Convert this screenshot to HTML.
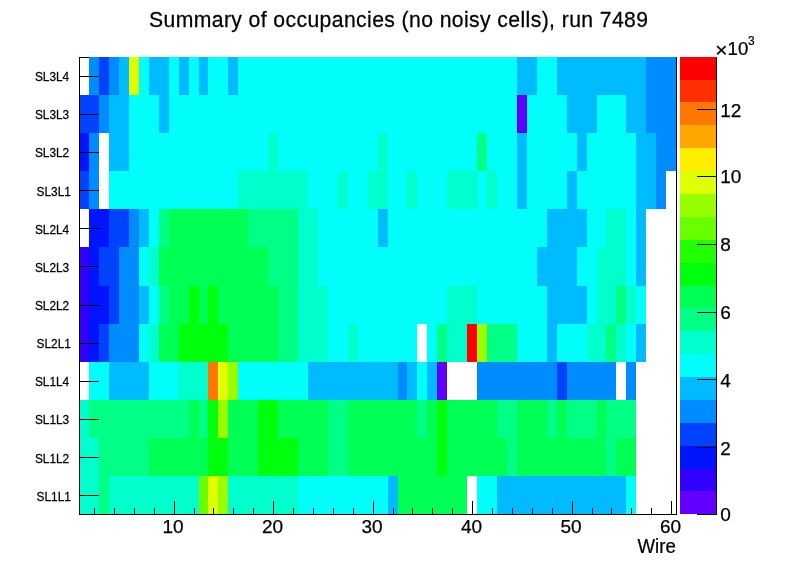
<!DOCTYPE html><html><head><meta charset="utf-8"><title>Summary of occupancies</title>
<style>html,body{margin:0;padding:0;background:#fff}svg{display:block}text{font-family:"Liberation Sans",sans-serif;fill:#000;stroke:#000;stroke-width:0.25px}</style></head><body>
<svg width="796" height="572" viewBox="0 0 796 572">
<rect x="0" y="0" width="796" height="572" fill="#fff"/>
<g shape-rendering="crispEdges">
<rect x="79" y="57" width="598" height="458" fill="#fff" stroke="none"/>
<rect x="79" y="57" width="598" height="1" fill="#000"/>
<rect x="676" y="57" width="1" height="458" fill="#000"/>
<rect x="89" y="57" width="10" height="38" fill="#008bff"/>
<rect x="99" y="57" width="10" height="38" fill="#0043ff"/>
<rect x="109" y="57" width="10" height="38" fill="#008bff"/>
<rect x="119" y="57" width="10" height="38" fill="#00bbff"/>
<rect x="129" y="57" width="10" height="38" fill="#e0ff00"/>
<rect x="139" y="57" width="10" height="38" fill="#00fffb"/>
<rect x="149" y="57" width="20" height="38" fill="#00bbff"/>
<rect x="169" y="57" width="10" height="38" fill="#00fffb"/>
<rect x="179" y="57" width="10" height="38" fill="#00bbff"/>
<rect x="189" y="57" width="10" height="38" fill="#00fffb"/>
<rect x="199" y="57" width="9" height="38" fill="#00bbff"/>
<rect x="208" y="57" width="20" height="38" fill="#00fffb"/>
<rect x="228" y="57" width="10" height="38" fill="#00bbff"/>
<rect x="238" y="57" width="279" height="38" fill="#00fffb"/>
<rect x="517" y="57" width="20" height="38" fill="#00bbff"/>
<rect x="537" y="57" width="20" height="38" fill="#00fffb"/>
<rect x="557" y="57" width="89" height="38" fill="#00bbff"/>
<rect x="646" y="57" width="30" height="38" fill="#008bff"/>
<rect x="79" y="95" width="20" height="38" fill="#0043ff"/>
<rect x="99" y="95" width="10" height="38" fill="#008bff"/>
<rect x="109" y="95" width="20" height="38" fill="#00bbff"/>
<rect x="129" y="95" width="30" height="38" fill="#00fffb"/>
<rect x="159" y="95" width="10" height="38" fill="#00bbff"/>
<rect x="169" y="95" width="348" height="38" fill="#00fffb"/>
<rect x="517" y="95" width="10" height="38" fill="#6200ff"/>
<rect x="527" y="95" width="40" height="38" fill="#00fffb"/>
<rect x="567" y="95" width="30" height="38" fill="#00bbff"/>
<rect x="597" y="95" width="29" height="38" fill="#00fffb"/>
<rect x="626" y="95" width="20" height="38" fill="#00bbff"/>
<rect x="646" y="95" width="30" height="38" fill="#008bff"/>
<rect x="79" y="133" width="10" height="38" fill="#0014ff"/>
<rect x="89" y="133" width="10" height="38" fill="#008bff"/>
<rect x="109" y="133" width="20" height="38" fill="#00bbff"/>
<rect x="129" y="133" width="139" height="38" fill="#00fffb"/>
<rect x="268" y="133" width="10" height="38" fill="#00ffcc"/>
<rect x="278" y="133" width="100" height="38" fill="#00fffb"/>
<rect x="378" y="133" width="10" height="38" fill="#00ffcc"/>
<rect x="388" y="133" width="89" height="38" fill="#00fffb"/>
<rect x="477" y="133" width="10" height="38" fill="#00ff84"/>
<rect x="487" y="133" width="30" height="38" fill="#00fffb"/>
<rect x="517" y="133" width="10" height="38" fill="#00bbff"/>
<rect x="527" y="133" width="50" height="38" fill="#00fffb"/>
<rect x="577" y="133" width="10" height="38" fill="#00bbff"/>
<rect x="587" y="133" width="49" height="38" fill="#00fffb"/>
<rect x="636" y="133" width="20" height="38" fill="#00bbff"/>
<rect x="656" y="133" width="20" height="38" fill="#008bff"/>
<rect x="79" y="171" width="10" height="38" fill="#0043ff"/>
<rect x="89" y="171" width="10" height="38" fill="#008bff"/>
<rect x="109" y="171" width="129" height="38" fill="#00fffb"/>
<rect x="238" y="171" width="70" height="38" fill="#00ffcc"/>
<rect x="308" y="171" width="30" height="38" fill="#00fffb"/>
<rect x="338" y="171" width="10" height="38" fill="#00ffcc"/>
<rect x="348" y="171" width="20" height="38" fill="#00fffb"/>
<rect x="368" y="171" width="20" height="38" fill="#00ffcc"/>
<rect x="388" y="171" width="19" height="38" fill="#00fffb"/>
<rect x="407" y="171" width="10" height="38" fill="#00ffcc"/>
<rect x="417" y="171" width="30" height="38" fill="#00fffb"/>
<rect x="447" y="171" width="30" height="38" fill="#00ffcc"/>
<rect x="477" y="171" width="10" height="38" fill="#00fffb"/>
<rect x="487" y="171" width="10" height="38" fill="#00ffcc"/>
<rect x="497" y="171" width="20" height="38" fill="#00fffb"/>
<rect x="517" y="171" width="10" height="38" fill="#00bbff"/>
<rect x="527" y="171" width="40" height="38" fill="#00fffb"/>
<rect x="567" y="171" width="10" height="38" fill="#00bbff"/>
<rect x="577" y="171" width="59" height="38" fill="#00fffb"/>
<rect x="636" y="171" width="20" height="38" fill="#00bbff"/>
<rect x="656" y="171" width="10" height="38" fill="#008bff"/>
<rect x="89" y="209" width="20" height="38" fill="#0014ff"/>
<rect x="109" y="209" width="20" height="38" fill="#0043ff"/>
<rect x="129" y="209" width="10" height="38" fill="#008bff"/>
<rect x="139" y="209" width="10" height="38" fill="#00bbff"/>
<rect x="149" y="209" width="10" height="38" fill="#00fffb"/>
<rect x="159" y="209" width="10" height="38" fill="#00ff84"/>
<rect x="169" y="209" width="79" height="38" fill="#00ff55"/>
<rect x="248" y="209" width="50" height="38" fill="#00ff84"/>
<rect x="298" y="209" width="20" height="38" fill="#00ffcc"/>
<rect x="318" y="209" width="60" height="38" fill="#00fffb"/>
<rect x="378" y="209" width="10" height="38" fill="#00bbff"/>
<rect x="388" y="209" width="159" height="38" fill="#00fffb"/>
<rect x="547" y="209" width="40" height="38" fill="#00bbff"/>
<rect x="587" y="209" width="19" height="38" fill="#00fffb"/>
<rect x="606" y="209" width="20" height="38" fill="#00ffcc"/>
<rect x="626" y="209" width="10" height="38" fill="#00fffb"/>
<rect x="636" y="209" width="10" height="38" fill="#00bbff"/>
<rect x="79" y="247" width="10" height="39" fill="#3200ff"/>
<rect x="89" y="247" width="10" height="39" fill="#0014ff"/>
<rect x="99" y="247" width="20" height="39" fill="#0043ff"/>
<rect x="119" y="247" width="20" height="39" fill="#008bff"/>
<rect x="139" y="247" width="10" height="39" fill="#00fffb"/>
<rect x="149" y="247" width="10" height="39" fill="#00ffcc"/>
<rect x="159" y="247" width="109" height="39" fill="#00ff55"/>
<rect x="268" y="247" width="30" height="39" fill="#00ff84"/>
<rect x="298" y="247" width="20" height="39" fill="#00ffcc"/>
<rect x="318" y="247" width="219" height="39" fill="#00fffb"/>
<rect x="537" y="247" width="40" height="39" fill="#00bbff"/>
<rect x="577" y="247" width="20" height="39" fill="#00fffb"/>
<rect x="597" y="247" width="29" height="39" fill="#00ffcc"/>
<rect x="626" y="247" width="10" height="39" fill="#00fffb"/>
<rect x="636" y="247" width="10" height="39" fill="#00bbff"/>
<rect x="79" y="286" width="10" height="38" fill="#3200ff"/>
<rect x="89" y="286" width="20" height="38" fill="#0014ff"/>
<rect x="109" y="286" width="10" height="38" fill="#0043ff"/>
<rect x="119" y="286" width="20" height="38" fill="#008bff"/>
<rect x="139" y="286" width="10" height="38" fill="#00bbff"/>
<rect x="149" y="286" width="10" height="38" fill="#00fffb"/>
<rect x="159" y="286" width="10" height="38" fill="#00ff84"/>
<rect x="169" y="286" width="20" height="38" fill="#00ff55"/>
<rect x="189" y="286" width="10" height="38" fill="#00ff0d"/>
<rect x="199" y="286" width="9" height="38" fill="#00ff55"/>
<rect x="208" y="286" width="10" height="38" fill="#00ff0d"/>
<rect x="218" y="286" width="60" height="38" fill="#00ff55"/>
<rect x="278" y="286" width="20" height="38" fill="#00ff84"/>
<rect x="298" y="286" width="30" height="38" fill="#00ffcc"/>
<rect x="328" y="286" width="119" height="38" fill="#00fffb"/>
<rect x="447" y="286" width="30" height="38" fill="#00ffcc"/>
<rect x="477" y="286" width="70" height="38" fill="#00fffb"/>
<rect x="547" y="286" width="40" height="38" fill="#00bbff"/>
<rect x="587" y="286" width="10" height="38" fill="#00fffb"/>
<rect x="597" y="286" width="19" height="38" fill="#00ffcc"/>
<rect x="616" y="286" width="10" height="38" fill="#00ff84"/>
<rect x="626" y="286" width="10" height="38" fill="#00ffcc"/>
<rect x="636" y="286" width="10" height="38" fill="#00fffb"/>
<rect x="79" y="324" width="10" height="38" fill="#3200ff"/>
<rect x="89" y="324" width="10" height="38" fill="#0014ff"/>
<rect x="99" y="324" width="10" height="38" fill="#0043ff"/>
<rect x="109" y="324" width="30" height="38" fill="#008bff"/>
<rect x="139" y="324" width="10" height="38" fill="#00fffb"/>
<rect x="149" y="324" width="10" height="38" fill="#00ffcc"/>
<rect x="159" y="324" width="20" height="38" fill="#00ff55"/>
<rect x="179" y="324" width="49" height="38" fill="#00ff0d"/>
<rect x="228" y="324" width="50" height="38" fill="#00ff55"/>
<rect x="278" y="324" width="20" height="38" fill="#00ff84"/>
<rect x="298" y="324" width="30" height="38" fill="#00ffcc"/>
<rect x="328" y="324" width="20" height="38" fill="#00fffb"/>
<rect x="348" y="324" width="10" height="38" fill="#00ffcc"/>
<rect x="358" y="324" width="59" height="38" fill="#00fffb"/>
<rect x="427" y="324" width="10" height="38" fill="#00fffb"/>
<rect x="437" y="324" width="10" height="38" fill="#00ff84"/>
<rect x="447" y="324" width="20" height="38" fill="#00ffcc"/>
<rect x="467" y="324" width="10" height="38" fill="#ff0000"/>
<rect x="477" y="324" width="10" height="38" fill="#98ff00"/>
<rect x="487" y="324" width="30" height="38" fill="#00ff84"/>
<rect x="517" y="324" width="30" height="38" fill="#00fffb"/>
<rect x="547" y="324" width="10" height="38" fill="#00bbff"/>
<rect x="557" y="324" width="30" height="38" fill="#00fffb"/>
<rect x="587" y="324" width="19" height="38" fill="#00ffcc"/>
<rect x="606" y="324" width="10" height="38" fill="#00ff84"/>
<rect x="616" y="324" width="10" height="38" fill="#00ffcc"/>
<rect x="626" y="324" width="10" height="38" fill="#00fffb"/>
<rect x="636" y="324" width="10" height="38" fill="#00bbff"/>
<rect x="89" y="362" width="20" height="38" fill="#00fffb"/>
<rect x="109" y="362" width="40" height="38" fill="#00bbff"/>
<rect x="149" y="362" width="30" height="38" fill="#00fffb"/>
<rect x="179" y="362" width="29" height="38" fill="#00ffcc"/>
<rect x="208" y="362" width="10" height="38" fill="#ff7700"/>
<rect x="218" y="362" width="10" height="38" fill="#e0ff00"/>
<rect x="228" y="362" width="10" height="38" fill="#98ff00"/>
<rect x="238" y="362" width="70" height="38" fill="#00fffb"/>
<rect x="308" y="362" width="90" height="38" fill="#00bbff"/>
<rect x="398" y="362" width="9" height="38" fill="#008bff"/>
<rect x="407" y="362" width="10" height="38" fill="#00bbff"/>
<rect x="417" y="362" width="10" height="38" fill="#00fffb"/>
<rect x="427" y="362" width="10" height="38" fill="#00bbff"/>
<rect x="437" y="362" width="10" height="38" fill="#6200ff"/>
<rect x="477" y="362" width="80" height="38" fill="#008bff"/>
<rect x="557" y="362" width="10" height="38" fill="#0043ff"/>
<rect x="567" y="362" width="49" height="38" fill="#008bff"/>
<rect x="626" y="362" width="10" height="38" fill="#008bff"/>
<rect x="79" y="400" width="10" height="38" fill="#00ffcc"/>
<rect x="89" y="400" width="100" height="38" fill="#00ff84"/>
<rect x="189" y="400" width="10" height="38" fill="#00ff55"/>
<rect x="199" y="400" width="9" height="38" fill="#00ff84"/>
<rect x="208" y="400" width="10" height="38" fill="#00ff0d"/>
<rect x="218" y="400" width="10" height="38" fill="#98ff00"/>
<rect x="228" y="400" width="30" height="38" fill="#00ff55"/>
<rect x="258" y="400" width="20" height="38" fill="#00ff0d"/>
<rect x="278" y="400" width="50" height="38" fill="#00ff55"/>
<rect x="328" y="400" width="20" height="38" fill="#00ff84"/>
<rect x="348" y="400" width="69" height="38" fill="#00ff55"/>
<rect x="417" y="400" width="10" height="38" fill="#00ff84"/>
<rect x="427" y="400" width="10" height="38" fill="#00ff55"/>
<rect x="437" y="400" width="10" height="38" fill="#00ff0d"/>
<rect x="447" y="400" width="50" height="38" fill="#00ff55"/>
<rect x="497" y="400" width="20" height="38" fill="#00ff84"/>
<rect x="517" y="400" width="30" height="38" fill="#00ff55"/>
<rect x="547" y="400" width="10" height="38" fill="#00ff84"/>
<rect x="557" y="400" width="10" height="38" fill="#00ff55"/>
<rect x="567" y="400" width="30" height="38" fill="#00ff84"/>
<rect x="597" y="400" width="9" height="38" fill="#00ff55"/>
<rect x="606" y="400" width="30" height="38" fill="#00ff84"/>
<rect x="79" y="438" width="20" height="38" fill="#00ffcc"/>
<rect x="99" y="438" width="50" height="38" fill="#00ff84"/>
<rect x="149" y="438" width="59" height="38" fill="#00ff55"/>
<rect x="208" y="438" width="20" height="38" fill="#00ff0d"/>
<rect x="228" y="438" width="30" height="38" fill="#00ff55"/>
<rect x="258" y="438" width="40" height="38" fill="#00ff0d"/>
<rect x="298" y="438" width="30" height="38" fill="#00ff55"/>
<rect x="328" y="438" width="20" height="38" fill="#00ff84"/>
<rect x="348" y="438" width="89" height="38" fill="#00ff55"/>
<rect x="437" y="438" width="10" height="38" fill="#00ff0d"/>
<rect x="447" y="438" width="60" height="38" fill="#00ff55"/>
<rect x="507" y="438" width="10" height="38" fill="#00ff84"/>
<rect x="517" y="438" width="89" height="38" fill="#00ff55"/>
<rect x="606" y="438" width="10" height="38" fill="#00ff84"/>
<rect x="616" y="438" width="20" height="38" fill="#00ff55"/>
<rect x="79" y="476" width="20" height="38" fill="#00ffcc"/>
<rect x="99" y="476" width="10" height="38" fill="#00ff84"/>
<rect x="109" y="476" width="90" height="38" fill="#00ffcc"/>
<rect x="199" y="476" width="9" height="38" fill="#69ff00"/>
<rect x="208" y="476" width="10" height="38" fill="#e0ff00"/>
<rect x="218" y="476" width="10" height="38" fill="#98ff00"/>
<rect x="228" y="476" width="70" height="38" fill="#00ffcc"/>
<rect x="298" y="476" width="90" height="38" fill="#00fffb"/>
<rect x="388" y="476" width="10" height="38" fill="#00bbff"/>
<rect x="398" y="476" width="69" height="38" fill="#00ff55"/>
<rect x="477" y="476" width="20" height="38" fill="#00fffb"/>
<rect x="497" y="476" width="129" height="38" fill="#00bbff"/>
<rect x="626" y="476" width="10" height="38" fill="#00fffb"/>
<rect x="680" y="491" width="36" height="23" fill="#6200ff"/>
<rect x="680" y="469" width="36" height="22" fill="#3200ff"/>
<rect x="680" y="446" width="36" height="23" fill="#0014ff"/>
<rect x="680" y="423" width="36" height="23" fill="#0043ff"/>
<rect x="680" y="400" width="36" height="23" fill="#008bff"/>
<rect x="680" y="377" width="36" height="23" fill="#00bbff"/>
<rect x="680" y="354" width="36" height="23" fill="#00fffb"/>
<rect x="680" y="331" width="36" height="23" fill="#00ffcc"/>
<rect x="680" y="308" width="36" height="23" fill="#00ff84"/>
<rect x="680" y="286" width="36" height="22" fill="#00ff55"/>
<rect x="680" y="263" width="36" height="23" fill="#00ff0d"/>
<rect x="680" y="240" width="36" height="23" fill="#22ff00"/>
<rect x="680" y="217" width="36" height="23" fill="#69ff00"/>
<rect x="680" y="194" width="36" height="23" fill="#98ff00"/>
<rect x="680" y="171" width="36" height="23" fill="#e0ff00"/>
<rect x="680" y="148" width="36" height="23" fill="#ffee00"/>
<rect x="680" y="125" width="36" height="23" fill="#ffa600"/>
<rect x="680" y="102" width="36" height="23" fill="#ff7700"/>
<rect x="680" y="80" width="36" height="22" fill="#ff2f00"/>
<rect x="680" y="57" width="36" height="23" fill="#ff0000"/>
<rect x="79" y="57" width="1" height="458" fill="#000"/>
<rect x="79" y="514" width="598" height="1" fill="#000"/>
<rect x="716" y="57" width="1" height="458" fill="#000"/>
<rect x="79" y="76" width="20" height="1" fill="#000"/>
<rect x="79" y="114" width="20" height="1" fill="#000"/>
<rect x="79" y="152" width="20" height="1" fill="#000"/>
<rect x="79" y="190" width="20" height="1" fill="#000"/>
<rect x="79" y="228" width="20" height="1" fill="#000"/>
<rect x="79" y="266" width="20" height="1" fill="#000"/>
<rect x="79" y="305" width="20" height="1" fill="#000"/>
<rect x="79" y="343" width="20" height="1" fill="#000"/>
<rect x="79" y="381" width="20" height="1" fill="#000"/>
<rect x="79" y="419" width="20" height="1" fill="#000"/>
<rect x="79" y="457" width="20" height="1" fill="#000"/>
<rect x="79" y="495" width="20" height="1" fill="#000"/>
<rect x="94" y="508" width="1" height="7" fill="#000"/>
<rect x="114" y="508" width="1" height="7" fill="#000"/>
<rect x="134" y="508" width="1" height="7" fill="#000"/>
<rect x="154" y="508" width="1" height="7" fill="#000"/>
<rect x="174" y="501" width="1" height="14" fill="#000"/>
<rect x="194" y="508" width="1" height="7" fill="#000"/>
<rect x="213" y="508" width="1" height="7" fill="#000"/>
<rect x="233" y="508" width="1" height="7" fill="#000"/>
<rect x="253" y="508" width="1" height="7" fill="#000"/>
<rect x="273" y="501" width="1" height="14" fill="#000"/>
<rect x="293" y="508" width="1" height="7" fill="#000"/>
<rect x="313" y="508" width="1" height="7" fill="#000"/>
<rect x="333" y="508" width="1" height="7" fill="#000"/>
<rect x="353" y="508" width="1" height="7" fill="#000"/>
<rect x="373" y="501" width="1" height="14" fill="#000"/>
<rect x="393" y="508" width="1" height="7" fill="#000"/>
<rect x="412" y="508" width="1" height="7" fill="#000"/>
<rect x="432" y="508" width="1" height="7" fill="#000"/>
<rect x="452" y="508" width="1" height="7" fill="#000"/>
<rect x="472" y="501" width="1" height="14" fill="#000"/>
<rect x="492" y="508" width="1" height="7" fill="#000"/>
<rect x="512" y="508" width="1" height="7" fill="#000"/>
<rect x="532" y="508" width="1" height="7" fill="#000"/>
<rect x="552" y="508" width="1" height="7" fill="#000"/>
<rect x="572" y="501" width="1" height="14" fill="#000"/>
<rect x="592" y="508" width="1" height="7" fill="#000"/>
<rect x="611" y="508" width="1" height="7" fill="#000"/>
<rect x="631" y="508" width="1" height="7" fill="#000"/>
<rect x="651" y="508" width="1" height="7" fill="#000"/>
<rect x="671" y="501" width="1" height="14" fill="#000"/>
<rect x="697" y="514" width="20" height="1" fill="#000"/>
<rect x="697" y="447" width="20" height="1" fill="#000"/>
<rect x="697" y="379" width="20" height="1" fill="#000"/>
<rect x="697" y="312" width="20" height="1" fill="#000"/>
<rect x="697" y="244" width="20" height="1" fill="#000"/>
<rect x="697" y="176" width="20" height="1" fill="#000"/>
<rect x="697" y="109" width="20" height="1" fill="#000"/>
</g>
<text transform="translate(149.00 27.00) scale(0.958 1)" font-size="22.1" textLength="520.9" lengthAdjust="spacing">Summary of occupancies (no noisy cells), run 7489</text>
<text transform="translate(69.20 81.17) scale(0.958 1)" font-size="12.4" text-anchor="end">SL3L4</text>
<text transform="translate(69.20 119.30) scale(0.958 1)" font-size="12.4" text-anchor="end">SL3L3</text>
<text transform="translate(69.20 157.43) scale(0.958 1)" font-size="12.4" text-anchor="end">SL3L2</text>
<text transform="translate(70.90 195.57) scale(0.958 1)" font-size="12.4" text-anchor="end">SL3L1</text>
<text transform="translate(69.20 233.70) scale(0.958 1)" font-size="12.4" text-anchor="end">SL2L4</text>
<text transform="translate(69.20 271.83) scale(0.958 1)" font-size="12.4" text-anchor="end">SL2L3</text>
<text transform="translate(69.20 309.97) scale(0.958 1)" font-size="12.4" text-anchor="end">SL2L2</text>
<text transform="translate(70.90 348.10) scale(0.958 1)" font-size="12.4" text-anchor="end">SL2L1</text>
<text transform="translate(69.20 386.23) scale(0.958 1)" font-size="12.4" text-anchor="end">SL1L4</text>
<text transform="translate(69.20 424.37) scale(0.958 1)" font-size="12.4" text-anchor="end">SL1L3</text>
<text transform="translate(69.20 462.50) scale(0.958 1)" font-size="12.4" text-anchor="end">SL1L2</text>
<text transform="translate(70.90 500.63) scale(0.958 1)" font-size="12.4" text-anchor="end">SL1L1</text>
<text transform="translate(173.12 533.00) scale(1.000 1)" font-size="19.0" text-anchor="middle">10</text>
<text transform="translate(272.62 533.00) scale(1.000 1)" font-size="19.0" text-anchor="middle">20</text>
<text transform="translate(372.12 533.00) scale(1.000 1)" font-size="19.0" text-anchor="middle">30</text>
<text transform="translate(471.62 533.00) scale(1.000 1)" font-size="19.0" text-anchor="middle">40</text>
<text transform="translate(571.12 533.00) scale(1.000 1)" font-size="19.0" text-anchor="middle">50</text>
<text transform="translate(670.62 533.00) scale(1.000 1)" font-size="19.0" text-anchor="middle">60</text>
<text transform="translate(675.80 552.80) scale(0.955 1)" font-size="19.5" text-anchor="end">Wire</text>
<text transform="translate(720.30 521.00) scale(1.000 1)" font-size="19.0">0</text>
<text transform="translate(720.30 455.00) scale(1.000 1)" font-size="19.0">2</text>
<text transform="translate(720.30 387.00) scale(1.000 1)" font-size="19.0">4</text>
<text transform="translate(720.30 319.00) scale(1.000 1)" font-size="19.0">6</text>
<text transform="translate(720.30 251.00) scale(1.000 1)" font-size="19.0">8</text>
<text transform="translate(720.30 183.00) scale(1.000 1)" font-size="19.0">10</text>
<text transform="translate(720.30 117.00) scale(1.000 1)" font-size="19.0">12</text>
<text transform="translate(715.30 56.90) scale(1.000 1)" font-size="21.0">×</text>
<text transform="translate(727.60 55.00) scale(0.980 1)" font-size="19.0">10</text>
<text transform="translate(748.00 45.40) scale(0.880 1)" font-size="13.6">3</text>
</svg></body></html>
